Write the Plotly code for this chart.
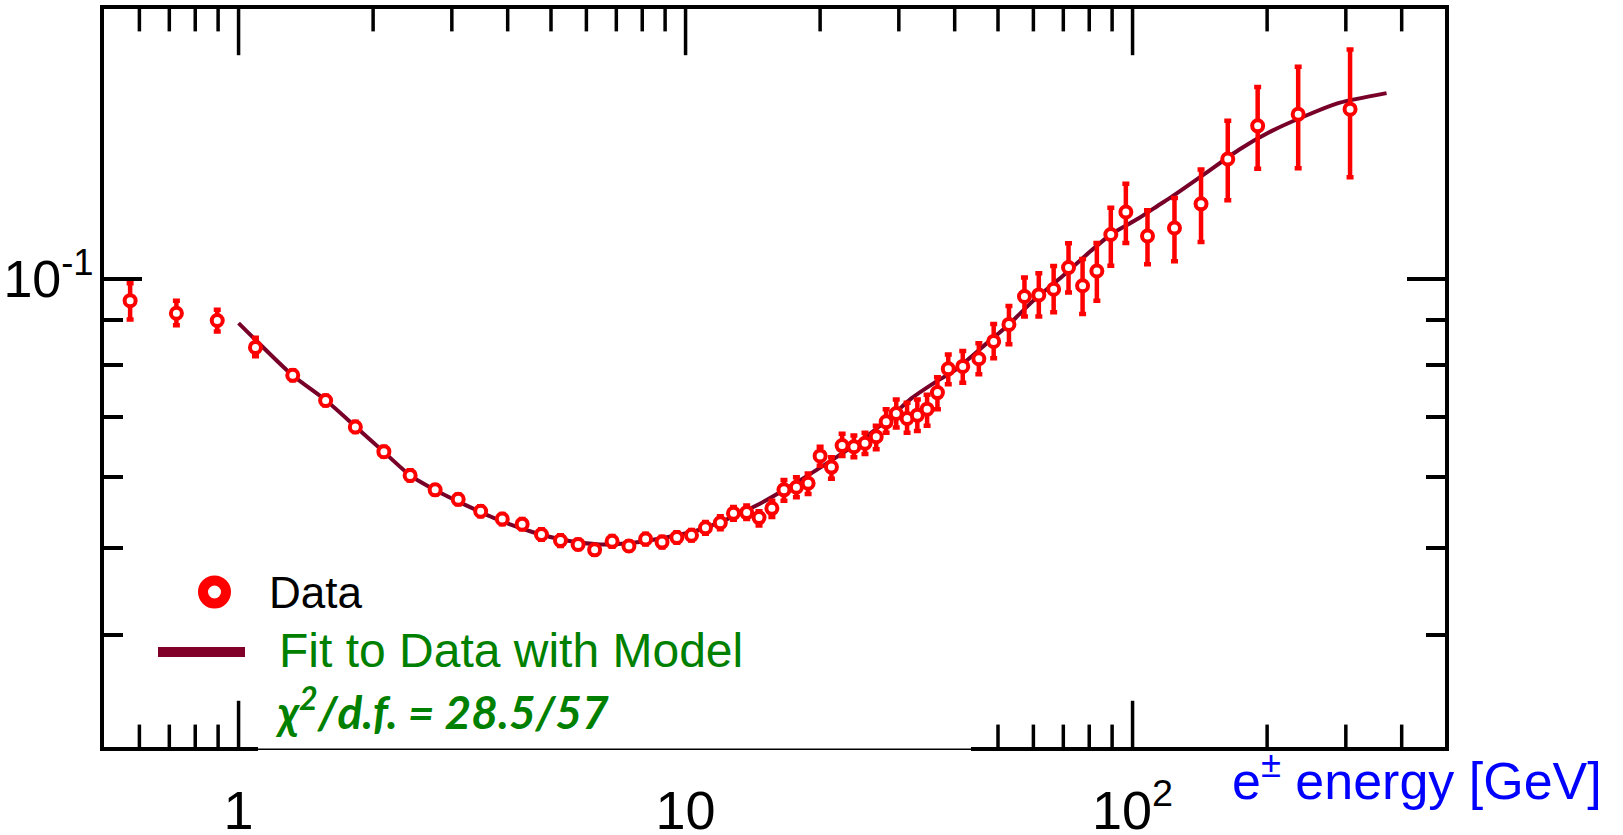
import plotly.graph_objects as go

# ---------------- data ----------------
energy = [0.572, 0.726, 0.896, 1.091, 1.322, 1.566, 1.825, 2.114, 2.42, 2.753,
          3.10, 3.48, 3.89, 4.31, 4.76, 5.25, 5.75, 6.26, 6.85, 7.47,
          8.14, 8.86, 9.56, 10.31, 11.08, 11.96, 12.8, 13.7, 14.6, 15.6,
          16.6, 17.7, 18.8, 20.0, 21.2, 22.4, 23.8, 25.2, 26.7, 28.1,
          29.6, 31.3, 33.0, 34.7, 36.6, 38.7, 41.7, 45.3, 48.9, 52.9,
          57.3, 61.7, 66.6, 71.9, 77.3, 83.2, 89.4, 96.6, 108.0, 124.1,
          142.3, 163.3, 190.5, 234.7, 306.6]
ratio = [0.0945, 0.0915, 0.0898, 0.0838, 0.0780, 0.0731, 0.0683, 0.0641, 0.0603, 0.0581,
         0.0567, 0.0550, 0.0539, 0.0532, 0.0518, 0.0510, 0.0505, 0.0498, 0.0509, 0.0503,
         0.0512, 0.0508, 0.0514, 0.0517, 0.0527, 0.0534, 0.0547, 0.0548, 0.0541, 0.0554,
         0.0581, 0.0585, 0.0591, 0.0634, 0.0616, 0.0651, 0.0649, 0.0655, 0.0666, 0.0692,
         0.0707, 0.0698, 0.0704, 0.0715, 0.0746, 0.0793, 0.0798, 0.0814, 0.0851, 0.0889,
         0.0955, 0.0959, 0.0973, 0.1029, 0.0982, 0.1020, 0.1120, 0.1187, 0.1116, 0.1139,
         0.1212, 0.1360, 0.1481, 0.1526, 0.1546]
ratio_hi = [0.0988, 0.0945, 0.0923, 0.0859, 0.0790, 0.0740, 0.0692, 0.0649, 0.0611, 0.0588,
            0.0574, 0.0557, 0.0546, 0.0539, 0.0525, 0.0517, 0.0511, 0.0504, 0.0516, 0.0509,
            0.0519, 0.0515, 0.0521, 0.0524, 0.0535, 0.0543, 0.0556, 0.0558, 0.0550, 0.0565,
            0.0596, 0.0600, 0.0606, 0.0649, 0.0632, 0.0671, 0.0668, 0.0673, 0.0685, 0.0715,
            0.0733, 0.0727, 0.0733, 0.0742, 0.0776, 0.0823, 0.0830, 0.0847, 0.0890, 0.0932,
            0.1003, 0.1014, 0.1033, 0.1095, 0.1052, 0.1096, 0.1200, 0.1276, 0.1192, 0.1230,
            0.1324, 0.1501, 0.1637, 0.1724, 0.1802]
ratio_lo = [0.0900, 0.0887, 0.0873, 0.0819, 0.0770, 0.0722, 0.0674, 0.0633, 0.0595, 0.0574,
            0.0560, 0.0543, 0.0532, 0.0525, 0.0511, 0.0503, 0.0499, 0.0492, 0.0502, 0.0497,
            0.0505, 0.0501, 0.0507, 0.0510, 0.0519, 0.0525, 0.0538, 0.0539, 0.0530, 0.0542,
            0.0565, 0.0570, 0.0575, 0.0618, 0.0598, 0.0634, 0.0632, 0.0637, 0.0645, 0.0673,
            0.0682, 0.0673, 0.0676, 0.0685, 0.0715, 0.0762, 0.0765, 0.0782, 0.0815, 0.0845,
            0.0907, 0.0907, 0.0917, 0.0965, 0.0913, 0.0945, 0.1034, 0.1096, 0.1038, 0.1046,
            0.1099, 0.1223, 0.1326, 0.1328, 0.1298]

fit_energy = [1.0, 1.32, 1.57, 1.83, 2.11, 2.42, 2.73, 3.24, 3.84, 4.56,
              5.42, 6.43, 7.62, 9.03, 10.7, 12.1, 14.4, 17.0, 20.3, 24.0,
              28.6, 32.0, 36.0, 40.0, 47.6, 52.9, 60.0, 70.0, 80.0, 90.0,
              103.0, 115.0, 122.0, 145.0, 173.0, 205.0, 244.0, 291.0, 370.0]
fit_ratio = [0.0892, 0.0780, 0.0731, 0.0683, 0.0641, 0.0603, 0.0582, 0.0558, 0.0537, 0.0521,
             0.0510, 0.0505, 0.0507, 0.0514, 0.0524, 0.0536, 0.0558, 0.0585, 0.0618, 0.0653,
             0.0699, 0.0735, 0.0765, 0.0790, 0.0850, 0.0889, 0.0945, 0.1008, 0.1070, 0.1123,
             0.1167, 0.1210, 0.1233, 0.1309, 0.1393, 0.1462, 0.1520, 0.1572, 0.1611]

x_major = [1, 10, 100]
x_major_text = ["1", "10", "10<sup>2</sup>"]
x_minor = [0.6, 0.7, 0.8, 0.9, 2, 3, 4, 5, 6, 7, 8, 9, 20, 30, 40, 50, 60, 70, 80, 90, 200, 300, 400]
y_major = [0.1]
y_major_text = ["10<sup>-1</sup>"]
y_minor = [0.04, 0.05, 0.06, 0.07, 0.08, 0.09]
y_bounds = [0.03, 0.2]   # axis range (bottom, top)

err_plus = [h - v for h, v in zip(ratio_hi, ratio)]
err_minus = [v - l for v, l in zip(ratio, ratio_lo)]

# ---------------- layout geometry (pixels) ----------------
W, H = 1623, 835
L, R, T, B = 104, 1445, 9, 747
PW, PH = R - L, B - T
XRANGE = [-0.30103, 2.69897]
YRANGE = [-1.5229, -0.69897]


def px(x):
    return (x - L) / PW


def py(y):
    return (B - y) / PH


RED = "#FF0000"
FITC = "#780028"
GREEN = "#008000"

fig = go.Figure()

# x-axis tick marks on bottom and top edges: vertical line markers centred on the
# frame edge; the outer half is clipped by the plot area, the inner half shows.
for vals, msize in ((x_major, 66), (x_minor, 32)):
    for yb in y_bounds:
        fig.add_trace(go.Scatter(
            x=vals, y=[yb] * len(vals), mode="markers", cliponaxis=True,
            marker=dict(symbol="line-ns-open", size=msize, color="black",
                        line=dict(color="black", width=3.5)),
            showlegend=False, hoverinfo="skip"))

fig.add_trace(go.Scatter(
    x=fit_energy, y=fit_ratio, mode="lines",
    line=dict(color=FITC, width=4, shape="spline", smoothing=0.6),
    showlegend=False, hoverinfo="skip"))
fig.add_trace(go.Scatter(
    x=energy, y=ratio, mode="markers",
    marker=dict(symbol="circle", size=11, color="white", line=dict(color=RED, width=4)),
    error_y=dict(type="data", array=err_plus, arrayminus=err_minus, symmetric=False,
                 color=RED, thickness=4.5, width=3.5),
    showlegend=False))

tickfont = dict(family="Liberation Sans", size=54, color="black")

fig.update_layout(
    xaxis=dict(type="log", range=XRANGE, tickmode="array", tickvals=x_major,
               ticktext=x_major_text, ticks="", showline=True, linecolor="black",
               linewidth=4, mirror=True, showgrid=False, zeroline=False,
               tickfont=tickfont, ticklabelstandoff=13, automargin=False),
    yaxis=dict(type="log", range=YRANGE, tickmode="array", tickvals=y_major,
               ticktext=y_major_text, ticks="inside", ticklen=38, tickwidth=3.5,
               tickcolor="black",
               minor=dict(tickmode="array", tickvals=y_minor, ticks="inside",
                          ticklen=19, tickwidth=3.5, tickcolor="black", showgrid=False),
               showline=True, linecolor="black", linewidth=4, mirror="ticks",
               showgrid=False, zeroline=False,
               tickfont=dict(family="Liberation Sans", size=52, color="black"),
               ticklabelstandoff=-4, automargin=False),
)

shapes = [
    # legend box hiding the lower axis ticks
    dict(type="rect", xref="paper", yref="paper", x0=px(258), x1=px(971),
         y0=py(753), y1=py(697), fillcolor="white", line=dict(width=0), layer="above"),
    dict(type="line", xref="paper", yref="paper", x0=px(258), x1=px(971),
         y0=py(749.3), y1=py(749.3), line=dict(color="black", width=1.5), layer="above"),
    # legend glyphs
    dict(type="circle", xref="paper", yref="paper", x0=px(203), x1=px(226),
         y0=py(603.5), y1=py(580.5), line=dict(color=RED, width=10), fillcolor="white",
         layer="above"),
    dict(type="line", xref="paper", yref="paper", x0=px(158), x1=px(245),
         y0=py(652), y1=py(652), line=dict(color="#80002A", width=10), layer="above"),
]

annotations = [
    dict(text="Data", xref="paper", yref="paper", x=px(267), y=py(592.5),
         xanchor="left", yanchor="middle", showarrow=False,
         font=dict(family="Liberation Sans", size=44, color="black")),
    dict(text="Fit to Data with Model", xref="paper", yref="paper", x=px(277), y=py(650),
         xanchor="left", yanchor="middle", showarrow=False,
         font=dict(family="Liberation Sans", size=48, color=GREEN)),
    dict(text="<b><i>χ<sup>2</sup>/d.f. = 28.5/57</i></b>", xref="paper", yref="paper",
         x=px(273), y=py(708), xanchor="left", yanchor="middle", showarrow=False,
         font=dict(family="Lato", size=46, color=GREEN)),
    dict(text="e<sup>±</sup> energy [GeV]", xref="paper", yref="paper", x=px(1604), y=py(777),
         xanchor="right", yanchor="middle", showarrow=False,
         font=dict(family="Liberation Sans", size=52, color="#0000FF")),
]

fig.update_layout(width=W, height=H, margin=dict(l=L, r=W - R, t=T, b=H - B, pad=0),
                  plot_bgcolor="white", paper_bgcolor="white",
                  shapes=shapes, annotations=annotations, showlegend=False)

fig.write_html("out.html", config=dict(displayModeBar=False))
